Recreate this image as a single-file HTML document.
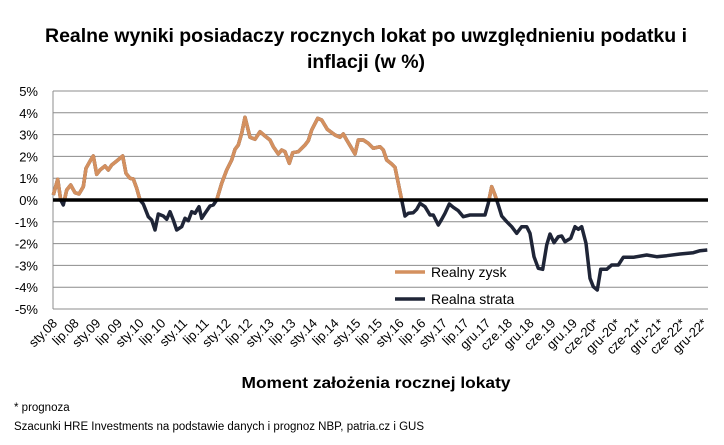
<!DOCTYPE html>
<html><head><meta charset="utf-8"><style>
body{margin:0;width:724px;height:440px;background:#fff;font-family:"Liberation Sans",sans-serif;overflow:hidden}
</style></head><body>
<svg id="s" width="724" height="440" xmlns="http://www.w3.org/2000/svg" font-family="Liberation Sans, sans-serif">
<text x="366" y="42" text-anchor="middle" font-size="19.5" font-weight="bold" textLength="642" lengthAdjust="spacingAndGlyphs">Realne wyniki posiadaczy rocznych lokat po uwzględnieniu podatku i</text>
<text x="366" y="68" text-anchor="middle" font-size="19.5" font-weight="bold">inflacji (w %)</text>
<g id="grid" stroke="#8c8c8c" stroke-width="1"></g>
<line x1="53" y1="91" x2="53" y2="309" stroke="#8c8c8c"/>
<g id="yl" font-size="13" text-anchor="end"></g>
<g id="xl" font-size="13"></g>
<defs><clipPath id="c"><rect x="0" y="0" width="724" height="200"/></clipPath></defs>
<path id="dk" fill="none" stroke="#1f2537" stroke-width="3.5" stroke-linejoin="round"/>
<path id="or" fill="none" stroke="#d4905f" stroke-width="3.5" stroke-linejoin="round" clip-path="url(#c)"/>
<line x1="53" y1="200" x2="708" y2="200" stroke="#000" stroke-width="3.5"/>
<line x1="395" y1="272" x2="425" y2="272" stroke="#d4905f" stroke-width="3.5"/>
<text x="431" y="277" font-size="14">Realny zysk</text>
<line x1="395" y1="299" x2="425" y2="299" stroke="#1f2537" stroke-width="3.5"/>
<text x="431" y="304" font-size="14">Realna strata</text>
<text x="376" y="388" text-anchor="middle" font-size="16" font-weight="bold" textLength="269" lengthAdjust="spacingAndGlyphs">Moment założenia rocznej lokaty</text>
<text x="14" y="411" font-size="11.5">* prognoza</text>
<text x="14" y="430" font-size="11.5" textLength="410" lengthAdjust="spacingAndGlyphs">Szacunki HRE Investments na podstawie danych i prognoz NBP,  patria.cz  i GUS</text>
</svg>
<script>
var ns="http://www.w3.org/2000/svg",g=document.getElementById('grid'),yl=document.getElementById('yl'),xl=document.getElementById('xl');
for(var i=0;i<=10;i++){var y=91+i*21.8,v=5-i;
 if(v!=0){var l=document.createElementNS(ns,'line');l.setAttribute('x1',53);l.setAttribute('x2',708);l.setAttribute('y1',y);l.setAttribute('y2',y);g.appendChild(l);}
 var t=document.createElementNS(ns,'text');t.setAttribute('x',38);t.setAttribute('y',y+5);t.textContent=v+'%';yl.appendChild(t);}
var labs="sty.08 lip.08 sty.09 lip.09 sty.10 lip.10 sty.11 lip.11 sty.12 lip.12 sty.13 lip.13 sty.14 lip.14 sty.15 lip.15 sty.16 lip.16 sty.17 lip.17 gru.17 cze.18 gru.18 cze.19 gru.19 cze-20* gru-20* cze-21* gru-21* cze-22* gru-22*".split(' ');
for(var i=0;i<labs.length;i++){var x=58+i*(650/(labs.length-1));var t=document.createElementNS(ns,'text');t.setAttribute('text-anchor','end');t.setAttribute('transform','translate('+x+',324) rotate(-45)');t.textContent=labs[i];xl.appendChild(t);}
var z1=[[160,345],[173,298],[182,360],[190,375],[200,330],[212,315],[225,338],[237,342],[250,320],[258,265],[272,240],[280,228],[290,283],[300,270],[315,258],[325,270],[335,255],[350,243],[368,228],[378,280],[390,295],[400,297],[410,325],[420,360],[430,372],[445,410],[455,420],[465,450],[475,402],[490,408],[500,418],[510,395],[520,420],[530,450],[545,440],[555,415],[565,422],[575,395],[585,400],[597,380],[605,415],[615,400],[630,378],[640,375],[650,360],[665,310],[680,270],[695,240],[705,208],[715,195],[725,160],[735,112]];
var z2=[[30,172],[45,178],[60,155],[75,168],[90,180],[100,200],[115,222],[125,210],[135,215],[148,250],[158,218],[175,215],[195,195],[205,182],[215,150],[233,115],[245,120],[262,148],[285,165],[300,172],[310,162],[320,180],[332,200],[345,222],[355,180],[370,180],[385,190],[400,205],[420,200],[430,210],[440,240],[455,252],[465,262],[475,310],[485,360],[495,408],[505,400],[520,398],[530,388],[540,370],[555,380],[570,405],[580,405],[595,435],[605,418],[615,400],[628,372],[640,382],[655,392],[670,410],[690,405],[710,405],[735,405]];
var z3=[[15,405],[25,370],[35,320],[45,345],[55,375],[65,408],[80,425],[95,440],[110,460],[125,440],[140,440],[150,460],[162,530],[175,565],[188,568],[200,495],[210,462],[222,488],[235,470],[245,468],[255,485],[272,475],[285,440],[295,448],[305,440],[318,490],[330,595],[340,620],[352,630],[362,568],[380,568],[395,555],[415,555],[430,532],[460,532],[500,525],[530,530],[560,527],[600,522],[640,518],[660,512],[682,510]];
var pts=[];function add(a,ox){a.forEach(function(p){pts.push((ox+p[0]/3).toFixed(1)+','+(80+p[1]/3).toFixed(1));});}
add(z1,0);add(z2,240);add(z3,480);
var d='M'+pts.join(' L');document.getElementById('dk').setAttribute('d',d);document.getElementById('or').setAttribute('d',d);
</script>
</body></html>
